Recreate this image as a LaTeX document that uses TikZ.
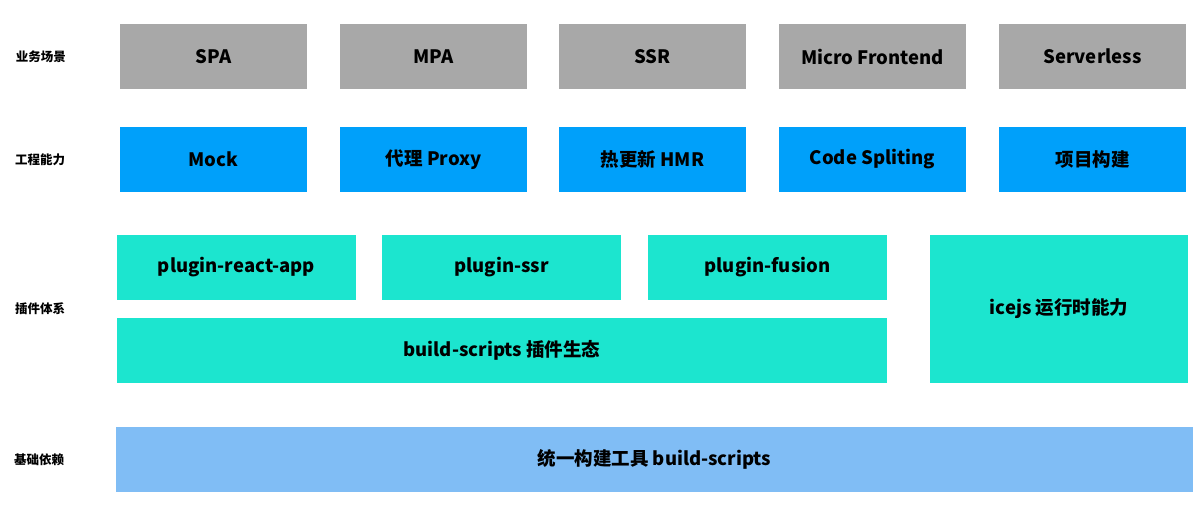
\documentclass[tikz,border=0pt]{standalone}
\usepackage{fontspec}
\setmainfont{Noto Sans CJK SC}
\definecolor{sceneGray}{RGB}{168,168,168}
\definecolor{abilityBlue}{RGB}{0,160,250}
\definecolor{pluginTeal}{RGB}{28,229,207}
\definecolor{baseBlue}{RGB}{128,189,245}
\tikzset{
    layer/.style={font=\fontsize{12.5}{14}\selectfont\bfseries, anchor=center},
    box/.style={minimum height=65pt, inner sep=0pt, font=\fontsize{18.5}{22}\selectfont\bfseries},
    scene/.style={box, fill=sceneGray, minimum width=187pt},
    ability/.style={box, fill=abilityBlue, minimum width=187pt},
    plugin/.style={box, fill=pluginTeal, minimum width=239pt},
}
\begin{document}
\begin{tikzpicture}[x=1pt, y=-1pt]
    \useasboundingbox (0,0) rectangle (1199,511);

    % layer labels
    \node (Lscene)   at (41,57)  [layer] {业务场景};
    \node (Lability) at (40,160) [layer] {工程能力};
    \node (Lplugin)  at (40,309) [layer] {插件体系};
    \node (Lbase)    at (39,460) [layer] {基础依赖};

    % business scenes
    \node (SPA)   at ( 213.5,56.5) [scene] {SPA};
    \node (MPA)   at ( 433.5,56.5) [scene] {MPA};
    \node (SSR)   at ( 652.5,56.5) [scene] {SSR};
    \node (MF)    at ( 872.5,56.5) [scene] {Micro Frontend};
    \node (SL)    at (1092.5,56.5) [scene] {Serverless};

    % engineering abilities
    \node (Mock)  at ( 213.5,159.5) [ability] {Mock};
    \node (Proxy) at ( 433.5,159.5) [ability] {代理 Proxy};
    \node (HMR)   at ( 652.5,159.5) [ability] {热更新 HMR};
    \node (Split) at ( 872.5,159.5) [ability] {Code Spliting};
    \node (Build) at (1092.5,159.5) [ability] {项目构建};

    % plugins
    \node (React)  at (236.5,267.5) [plugin] {plugin-react-app};
    \node (PSSR)   at (501.5,267.5) [plugin] {plugin-ssr};
    \node (Fusion) at (767.5,267.5) [plugin] {plugin-fusion};
    \node (Eco)    at (502,350.5)   [plugin, minimum width=770pt] {build-scripts 插件生态};
    \node (Ice)    at (1059,309)    [plugin, minimum width=258pt, minimum height=148pt] {icejs 运行时能力};

    % base
    \node (Base) at (654.5,459.5) [box, fill=baseBlue, minimum width=1077pt] {统一构建工具 build-scripts};
\end{tikzpicture}
\end{document}
